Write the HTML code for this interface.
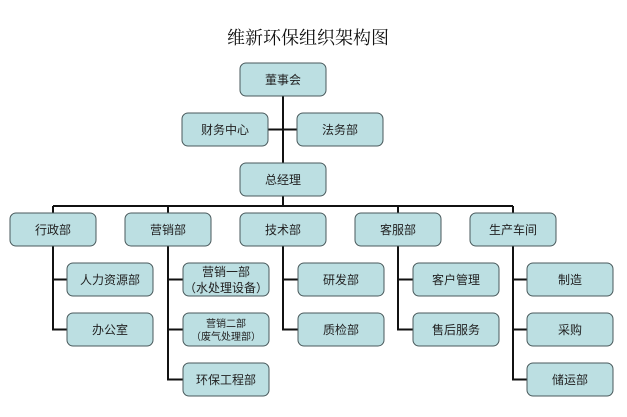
<!DOCTYPE html>
<html><head><meta charset="utf-8"><style>
html,body{margin:0;padding:0;background:#fff;}
svg{display:block;}
text{font-family:"Liberation Sans","Noto Sans CJK SC",sans-serif;font-size:12px;fill:#222;text-anchor:middle;}
.t{font-family:"Liberation Serif","Noto Serif CJK SC",serif;font-size:18px;fill:#111;}
rect{fill:#bcdfe2;stroke:#4a5a5c;stroke-width:1;}
line,polyline{stroke:#111;stroke-width:2;fill:none;}
</style></head><body>
<svg width="627" height="417" viewBox="0 0 627 417">
<text class="t" x="308" y="44">维新环保组织架构图</text>
<!-- connectors -->
<line x1="283" y1="96" x2="283" y2="206"/>
<line x1="268" y1="129.5" x2="297" y2="129.5"/>
<line x1="53" y1="206" x2="513" y2="206"/>
<line x1="53" y1="206" x2="53" y2="213"/><line x1="168" y1="206" x2="168" y2="213"/>
<line x1="398" y1="206" x2="398" y2="213"/><line x1="513" y1="206" x2="513" y2="213"/>
<polyline points="53,246 53,329.5 67,329.5"/><line x1="53" y1="279.5" x2="67" y2="279.5"/>
<polyline points="168,246 168,379.5 183,379.5"/><line x1="168" y1="279.5" x2="183" y2="279.5"/><line x1="168" y1="329.5" x2="183" y2="329.5"/>
<polyline points="283,246 283,329.5 298,329.5"/><line x1="283" y1="279.5" x2="298" y2="279.5"/>
<polyline points="398,246 398,329.5 413,329.5"/><line x1="398" y1="279.5" x2="413" y2="279.5"/>
<polyline points="513,246 513,379.5 527,379.5"/><line x1="513" y1="279.5" x2="527" y2="279.5"/><line x1="513" y1="329.5" x2="527" y2="329.5"/>
<!-- boxes -->
<g>
<rect x="240" y="63" width="86" height="33" rx="6"/><text x="283" y="84">董事会</text>
<rect x="182" y="113" width="86" height="33" rx="6"/><text x="225" y="134">财务中心</text>
<rect x="297" y="113" width="86" height="33" rx="6"/><text x="340" y="134">法务部</text>
<rect x="240" y="163" width="86" height="33" rx="6"/><text x="283" y="184">总经理</text>

<rect x="10" y="213" width="86" height="33" rx="6"/><text x="53" y="234">行政部</text>
<rect x="125" y="213" width="86" height="33" rx="6"/><text x="168" y="234">营销部</text>
<rect x="240" y="213" width="86" height="33" rx="6"/><text x="283" y="234">技术部</text>
<rect x="355" y="213" width="86" height="33" rx="6"/><text x="398" y="234">客服部</text>
<rect x="470" y="213" width="86" height="33" rx="6"/><text x="513" y="234">生产车间</text>

<rect x="67" y="263" width="86" height="33" rx="6"/><text x="110" y="284">人力资源部</text>
<rect x="67" y="313" width="86" height="33" rx="6"/><text x="110" y="334">办公室</text>

<rect x="183" y="263" width="86" height="33" rx="6"/><text x="226" y="276">营销一部</text><text x="226" y="292">（水处理设备）</text>
<rect x="183" y="313" width="86" height="33" rx="6"/><text x="226" y="327" style="font-size:10px">营销二部</text><text x="226" y="340" style="font-size:10px">（废气处理部）</text>
<rect x="183" y="363" width="86" height="33" rx="6"/><text x="226" y="384">环保工程部</text>

<rect x="298" y="263" width="86" height="33" rx="6"/><text x="341" y="284">研发部</text>
<rect x="298" y="313" width="86" height="33" rx="6"/><text x="341" y="334">质检部</text>

<rect x="413" y="263" width="86" height="33" rx="6"/><text x="456" y="284">客户管理</text>
<rect x="413" y="313" width="86" height="33" rx="6"/><text x="456" y="334">售后服务</text>

<rect x="527" y="263" width="86" height="33" rx="6"/><text x="570" y="284">制造</text>
<rect x="527" y="313" width="86" height="33" rx="6"/><text x="570" y="334">采购</text>
<rect x="527" y="363" width="86" height="33" rx="6"/><text x="570" y="384">储运部</text>
</g>
</svg>
</body></html>
